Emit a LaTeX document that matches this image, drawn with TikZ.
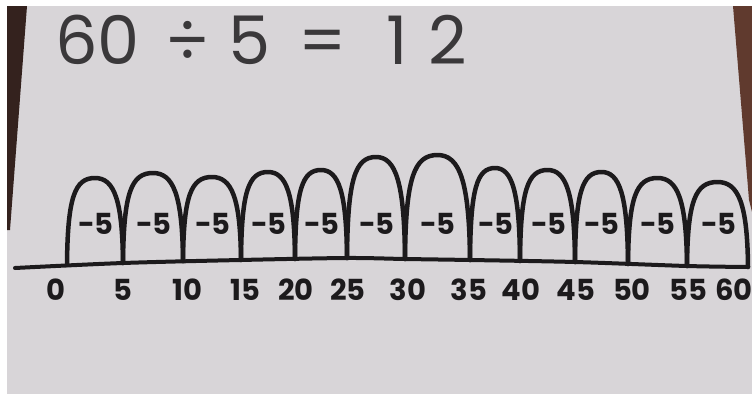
\documentclass[tikz,border=0pt]{standalone}
\usepackage{fontspec}
\setmainfont{Poppins}
\definecolor{board}{RGB}{216,213,216}
\definecolor{ink}{RGB}{28,26,28}
\definecolor{titleink}{RGB}{58,56,58}
\definecolor{frameL}{RGB}{52,34,30}
\definecolor{frameR}{RGB}{96,58,46}
\begin{document}
\begin{tikzpicture}[x=1pt,y=-1pt,
  arch/.style={draw=ink, line width=4.5pt, line cap=round, line join=round},
  jumplabel/.style={font=\fontsize{29}{29}\selectfont\bfseries, text=ink, inner sep=0pt},
  ticklabel/.style={font=\fontsize{29}{29}\selectfont\bfseries, text=ink, inner sep=0pt},
  titletext/.style={font=\fontsize{67}{67}\selectfont, text=titleink, inner sep=0pt, anchor=west}
]
\useasboundingbox (0,0) rectangle (752,394);
\clip (0,0) rectangle (752,394);
% photo background
\fill[white] (0,0) rectangle (752,394);
\fill[board] (7,6) rectangle (752,394);
\fill[frameL] (7,6) -- (27,6) -- (10,230) -- (7,230) -- cycle;
\fill[frameR] (733,6) -- (752,6) -- (752,212) -- (749,200) -- cycle;
% title
\node[titletext] (title) at (55,40) {60\hspace{0.38em}÷\hspace{0.28em}5\hspace{0.42em}=\hspace{0.6em}1\hspace{0.3em}2};
% number line
\draw[ink, line width=4pt, line cap=round] plot[smooth] coordinates {(15,268) (123,263) (240,260) (347,258) (405,259) (470,260) (575,262) (687,266) (748,267)};
% ticks
\foreach \n/\x/\y in {0/67/265,1/123/263,2/183/261,3/241/260,4/295/259,5/347/258,6/405/259,7/470/260,8/520/261,9/575/262,10/628/264,11/687/266,12/748/267}
  \coordinate (t\n) at (\x,\y);
% arches
\foreach \xa/\ya/\xb/\yb/\yt in {67/265/123/263/178,123/263/183/261/173,183/261/241/260/177,241/260/295/259/172,295/259/347/258/170,347/258/405/259/157,405/259/470/260/155,470/260/520/261/168,520/261/575/262/170,575/262/628/264/172,628/264/687/266/178,687/266/748/267/182}{
  \pgfmathsetmacro\w{\xb-\xa}
  \pgfmathsetmacro\h{(\ya+\yb)/2-\yt}
  \draw[arch] (\xa,\ya) .. controls (\xa+0.01*\w,\yt+0.22*\h) and (\xa+0.14*\w,\yt) .. (\xa+0.5*\w,\yt) .. controls (\xb-0.16*\w,\yt) and (\xb-0.01*\w,\yt+0.25*\h) .. (\xb,\yb);
}
% jump labels
\foreach \i/\x in {1/96,2/154,3/213,4/269,5/322,6/377,7/438,8/496,9/549,10/602,11/658,12/719}
  \node[jumplabel] (j\i) at (\x,224) {-5};
% tick labels
\foreach \i/\x/\t in {0/56/0,1/123/5,2/187/10,3/245/15,4/296/20,5/348/25,6/408/30,7/469/35,8/521/40,9/576/45,10/632/50,11/688/55,12/734/60}
  \node[ticklabel] (l\i) at (\x,290) {\t};
\end{tikzpicture}
\end{document}
